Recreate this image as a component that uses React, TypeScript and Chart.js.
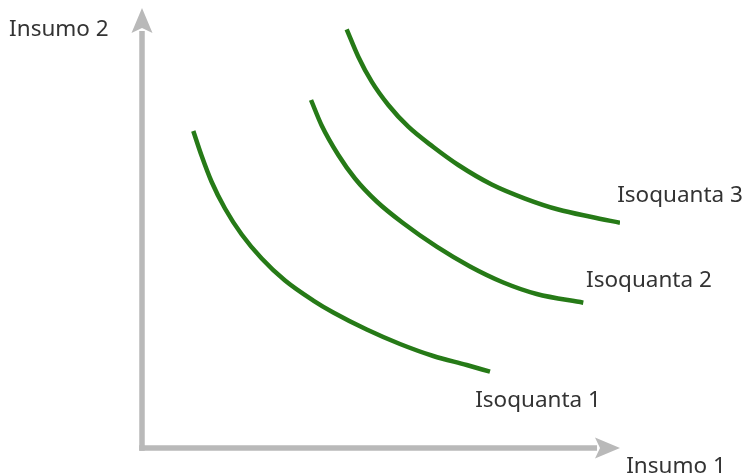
import React, { useEffect, useRef } from "react";
import { Chart, registerables } from "chart.js";

Chart.register(...registerables);

const iso1X = [1.073, 1.249, 1.458, 1.736, 2.086, 2.504, 2.992, 3.584, 4.002, 4.701, 5.397, 6.094, 6.793, 7.28];
const iso1Y = [7.205, 6.636, 6.045, 5.443, 4.852, 4.307, 3.807, 3.352, 3.08, 2.693, 2.364, 2.091, 1.886, 1.734];
const iso2X = [3.536, 3.759, 4.107, 4.456, 4.91, 5.467, 6.165, 6.862, 7.559, 8.257, 9.232];
const iso2Y = [7.909, 7.33, 6.659, 6.125, 5.602, 5.107, 4.575, 4.125, 3.761, 3.5, 3.302];
const iso3X = [4.282, 4.525, 4.805, 5.153, 5.571, 6.094, 6.617, 7.316, 8.013, 8.709, 9.408, 10.0];
const iso3Y = [9.516, 8.893, 8.325, 7.795, 7.302, 6.841, 6.432, 5.989, 5.67, 5.42, 5.25, 5.12];

const labelTexts = ["Insumo 2", "Insumo 1", "Isoquanta 1", "Isoquanta 2", "Isoquanta 3"];
const labelX = [-2.78, 10.13, 6.97, 9.29, 9.94];
const labelY = [9.36, -0.57, 0.93, 3.66, 5.59];

const axisMin = 0;
const axisMax = 10;

const GREEN = "#267a17";
const AXIS = "#b9b9b9";
const TEXT = "#333333";

const toPoints = (xs: number[], ys: number[]) => xs.map((x, i) => ({ x, y: ys[i] }));

const decorPlugin = {
  id: "decor",
  beforeDatasetsDraw(chart: any) {
    const ctx = chart.ctx;
    const xs = chart.scales.x;
    const ys = chart.scales.y;
    const x0 = xs.getPixelForValue(axisMin);
    const x1 = xs.getPixelForValue(axisMax);
    const y0 = ys.getPixelForValue(axisMin);
    const y1 = ys.getPixelForValue(axisMax);
    const lw = 5.5;
    const head = 25;
    const half = 10.5;
    ctx.save();
    ctx.fillStyle = AXIS;
    ctx.fillRect(x0 - lw / 2, y1 + head - 2, lw, y0 - (y1 + head - 2) + lw / 2);
    ctx.fillRect(x0 - lw / 2, y0 - lw / 2, x1 - head + 2 - (x0 - lw / 2), lw);
    ctx.beginPath();
    ctx.moveTo(x0, y1);
    ctx.lineTo(x0 + half, y1 + head);
    ctx.lineTo(x0, y1 + head - 5);
    ctx.lineTo(x0 - half, y1 + head);
    ctx.closePath();
    ctx.fill();
    ctx.beginPath();
    ctx.moveTo(x1, y0);
    ctx.lineTo(x1 - head, y0 - half);
    ctx.lineTo(x1 - head + 5, y0);
    ctx.lineTo(x1 - head, y0 + half);
    ctx.closePath();
    ctx.fill();
    ctx.restore();
  },
  afterDraw(chart: any) {
    const ctx = chart.ctx;
    const xs = chart.scales.x;
    const ys = chart.scales.y;
    ctx.save();
    ctx.fillStyle = TEXT;
    ctx.font = "22.5px 'Noto Sans'";
    ctx.textAlign = "left";
    ctx.textBaseline = "alphabetic";
    labelTexts.forEach((t, i) => {
      ctx.fillText(t, xs.getPixelForValue(labelX[i]), ys.getPixelForValue(labelY[i]));
    });
    ctx.restore();
  },
};

export default function App() {
  const ref = useRef<HTMLCanvasElement | null>(null);
  useEffect(() => {
    if (!ref.current) return;
    const mk = (xs: number[], ys: number[], label: string) => ({
      label,
      data: toPoints(xs, ys),
      showLine: true,
      borderColor: GREEN,
      backgroundColor: GREEN,
      borderWidth: 4.5,
      pointRadius: 0,
      pointHoverRadius: 0,
      cubicInterpolationMode: "monotone" as const,
      fill: false,
    });
    const chart = new Chart(ref.current, {
      type: "scatter",
      data: {
        datasets: [
          mk(iso1X, iso1Y, "Isoquanta 1"),
          mk(iso2X, iso2Y, "Isoquanta 2"),
          mk(iso3X, iso3Y, "Isoquanta 3"),
        ],
      },
      options: {
        responsive: false,
        animation: false,
        layout: { padding: { left: 142, right: 130, top: 8, bottom: 27 } },
        scales: {
          x: { type: "linear", min: axisMin, max: axisMax, display: false },
          y: { type: "linear", min: axisMin, max: axisMax, display: false },
        },
        plugins: {
          legend: { display: false },
          tooltip: { enabled: false },
        },
        events: [],
      },
      plugins: [decorPlugin],
    });
    return () => chart.destroy();
  }, []);
  return (
    <div style={{ position: "fixed", left: 0, top: 0, width: 750, height: 475, background: "#fff" }}>
      <canvas ref={ref} width={750} height={475} style={{ display: "block" }} />
    </div>
  );
}
